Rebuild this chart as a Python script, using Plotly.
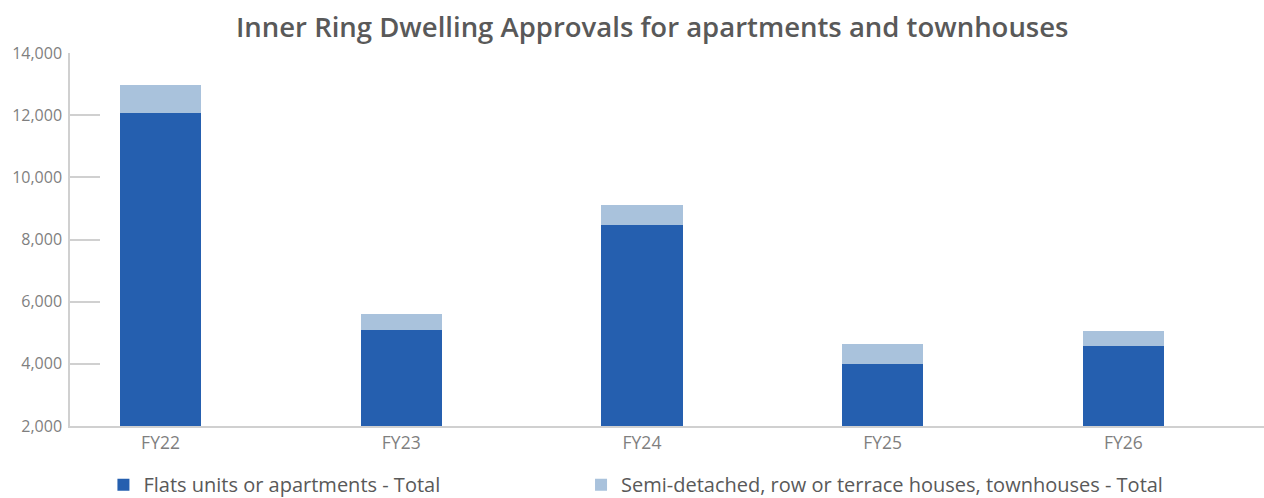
import plotly.graph_objects as go

# Financial years on the category axis
years = ["FY22", "FY23", "FY24", "FY25", "FY26"]

# Dwelling approvals, stacked by dwelling type
flats_apartments = [12080, 5090, 8470, 4000, 4575]
semi_townhouses = [890, 510, 640, 640, 480]

# Value axis ticks
y_ticks = [2000, 4000, 6000, 8000, 10000, 12000, 14000]
y_tick_text = ["2,000", "4,000", "6,000", "8,000", "10,000", "12,000", "14,000"]

FONT = "Open Sans"
DARK_BLUE = "#255FAF"
LIGHT_BLUE = "#A9C2DC"
AXIS_GREY = "#D0D0D0"

fig = go.Figure()
fig.add_trace(go.Bar(
    x=years, y=flats_apartments,
    name="Flats units or apartments - Total",
    marker=dict(color=DARK_BLUE, line=dict(width=0)),
    legend="legend",
))
fig.add_trace(go.Bar(
    x=years, y=semi_townhouses,
    name="Semi-detached, row or terrace houses, townhouses - Total",
    marker=dict(color=LIGHT_BLUE, line=dict(width=0)),
    legend="legend2",
))

legend_style = dict(
    orientation="h",
    xanchor="left",
    y=-0.105, yanchor="top",
    font=dict(family=FONT, size=20, color="#595959"),
    bgcolor="rgba(0,0,0,0)",
)

fig.update_layout(
    barmode="stack",
    bargap=0.663,
    width=1264, height=498,
    margin=dict(l=70, r=0, t=53, b=72, autoexpand=False),
    paper_bgcolor="white",
    plot_bgcolor="white",
    font=dict(family=FONT, color="#7F7F7F"),
    title=dict(
        text="Inner Ring Dwelling Approvals for apartments and townhouses",
        x=0.516, xanchor="center",
        y=0.945, yanchor="middle",
        font=dict(family=FONT, size=27.5, color="#595959", weight=600),
    ),
    showlegend=True,
    legend=dict(x=0.028, **legend_style),
    legend2=dict(x=0.428, **legend_style),
    xaxis=dict(
        type="category",
        range=[-0.376, 4.584],
        showgrid=False,
        showline=True, linecolor=AXIS_GREY, linewidth=2,
        ticks="",
        tickfont=dict(family=FONT, size=17.5, color="#7F7F7F"),
        fixedrange=True,
    ),
    yaxis=dict(
        range=[2000, 14000],
        tickvals=y_ticks, ticktext=y_tick_text,
        showgrid=False,
        showline=True, linecolor=AXIS_GREY, linewidth=1.5,
        ticks="inside", ticklen=30, tickcolor=AXIS_GREY, tickwidth=1.5,
        tickfont=dict(family=FONT, size=16, color="#7F7F7F"),
        ticklabelstandoff=3,
        zeroline=False,
        fixedrange=True,
    ),
)

fig.write_html("out.html")
